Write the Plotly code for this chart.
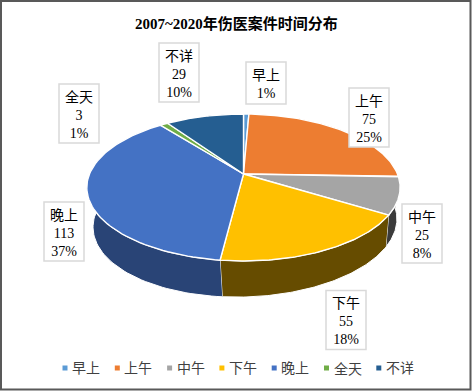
import numpy as np
import plotly.graph_objects as go

# ---- data ----
categories = ["早上", "上午", "中午", "下午", "晚上", "全天", "不详"]
values = [2, 75, 25, 55, 113, 3, 29]
percents = ["1%", "25%", "8%", "18%", "37%", "1%", "10%"]
show_value = [False, True, True, True, True, True, True]
title_text = "2007~2020年伤医案件时间分布"

# ---- styles ----
top_colors = ["#5B9BD5", "#ED7D31", "#A5A5A5", "#FFC000", "#4472C4", "#70AD47", "#255E91"]
side_colors = ["#2F5F8A", "#8E4B1D", "#3B3B3B", "#664C00", "#294476", "#43682B", "#163855"]
CJK = "'Liberation Serif','Noto Sans CJK SC',serif"

# ---- projection of the pie disc (pixel axes) ----
CX, CY = 243.5, 174.0
A, B, K = 154.0, 71.0, 0.1837
SX, DX = 0.97, 1.5              # lower disc horizontal scale / shift
SY, DY, TILT = 1.006, 35.5, -0.0256  # lower disc vertical scale / shift / tilt


def project(theta):
    s, c = np.sin(theta), np.cos(theta)
    d = 1 + K * c
    return A * s / d, -B * c / d


total = sum(values)
edges = np.concatenate([[0], np.cumsum(values)]) / total * 2 * np.pi

fig = go.Figure()

# side walls first, tops over them
for i in range(len(values)):
    t = np.linspace(edges[i], edges[i + 1], 80)
    px, py = project(t)
    xs = np.concatenate([CX + px, (CX + DX + SX * px)[::-1]])
    ys = np.concatenate([CY + py, (CY + DY + SY * py + TILT * px)[::-1]])
    fig.add_trace(go.Scatter(x=xs, y=ys, mode="lines", fill="toself", fillcolor=side_colors[i],
                             line=dict(color="white", width=1), hoverinfo="skip", showlegend=False))

for i, name in enumerate(categories):
    t = np.linspace(edges[i], edges[i + 1], 80)
    px, py = project(t)
    xs = np.concatenate([[CX], CX + px, [CX]])
    ys = np.concatenate([[CY], CY + py, [CY]])
    fig.add_trace(go.Scatter(x=xs, y=ys, mode="lines", fill="toself", fillcolor=top_colors[i],
                             line=dict(color="white", width=1.4), name=name, hoverinfo="name",
                             showlegend=False))

# data label boxes: centre x, centre y, height
label_boxes = {
    "早上": (266, 83, 42), "上午": (369, 117.5, 59), "中午": (422, 233.5, 59), "下午": (346, 320, 59),
    "晚上": (64, 231.5, 59), "全天": (79, 113.5, 59), "不详": (179, 72.5, 59),
}
shapes = []
for i, name in enumerate(categories):
    lines = [name] + ([str(values[i])] if show_value[i] else []) + [percents[i]]
    bx, by, bh = label_boxes[name]
    shapes.append(dict(type="rect", xref="x", yref="y", x0=bx - 20, x1=bx + 20, y0=by - bh / 2, y1=by + bh / 2,
                       fillcolor="white", line=dict(color="#D9D9D9", width=1.5), layer="above"))
    fig.add_annotation(x=bx, y=by + 1.5, xref="x", yref="y", text="<br>".join(lines), showarrow=False,
                       borderpad=0, align="center", font=dict(family=CJK, size=14, color="#000000"))

# legend row
legend_x = [65 + 52.3 * i for i in range(len(categories))]
fig.add_trace(go.Scatter(x=legend_x, y=[368] * len(categories), mode="markers",
                         marker=dict(symbol="square", size=5, color=top_colors),
                         hoverinfo="skip", showlegend=False))
for lx, name in zip(legend_x, categories):
    fig.add_annotation(x=lx + 6, y=368.5, xref="x", yref="y", text=name, showarrow=False, xanchor="left",
                       borderpad=0, font=dict(family=CJK, size=14, color="#404040"))

shapes.append(dict(type="rect", xref="x", yref="y", x0=1, y0=1, x1=470.5, y1=389.5,
                   line=dict(color="#595959", width=2), fillcolor="rgba(0,0,0,0)", layer="above"))

fig.update_layout(
    width=472, height=391, margin=dict(l=0, r=0, t=0, b=0),
    paper_bgcolor="white", plot_bgcolor="white", showlegend=False,
    xaxis=dict(range=[0, 472], visible=False, fixedrange=True),
    yaxis=dict(range=[391, 0], visible=False, fixedrange=True),
    annotations=list(fig.layout.annotations) + [
        dict(x=236, y=23.5, xref="x", yref="y", text=f"<b>{title_text}</b>", showarrow=False,
             font=dict(family=CJK, size=15, color="#000000"))
    ],
    shapes=shapes,
)
fig.write_html("out.html", config={"displayModeBar": False},
               post_script="document.body.style.margin='0';document.documentElement.style.overflow='hidden';")
